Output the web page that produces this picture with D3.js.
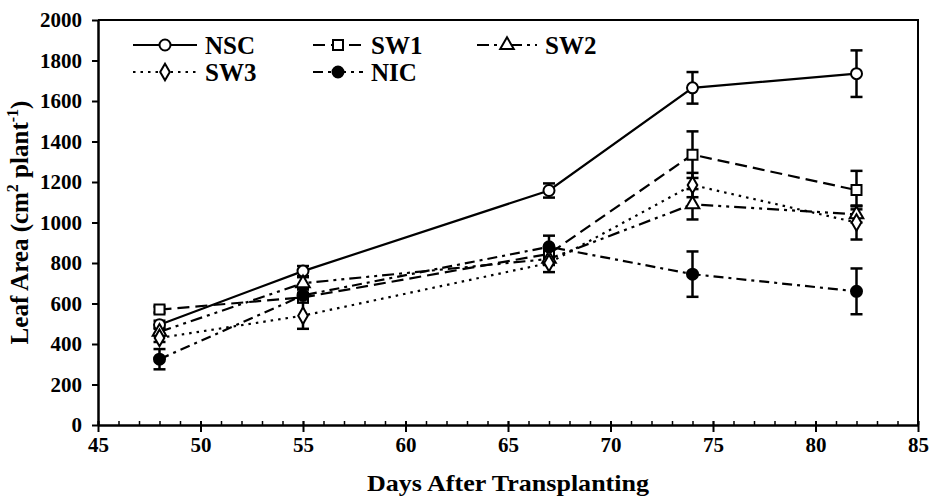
<!DOCTYPE html>
<html>
<head>
<meta charset="utf-8">
<script src="https://cdn.jsdelivr.net/npm/d3@7"></script>
<style>
  body { margin: 0; background: #fff; }
  svg { font-family: "Liberation Serif", "Times New Roman", serif; font-weight: bold; }
</style>
</head>
<body>
<svg id="svg" width="929" height="499"></svg>
<script>
const days = [48, 55, 67, 74, 82];
const nsc = [495, 760, 1158, 1665, 1735];
const nscErr = [20, 25, 35, 78, 115];
const sw1 = [570, 630, 845, 1335, 1160];
const sw1Err = [15, 20, 30, 115, 95];
const sw2 = [460, 700, 820, 1090, 1040];
const sw2Err = [20, 30, 30, 75, 40];
const sw3 = [430, 540, 800, 1185, 1000];
const sw3Err = [20, 65, 45, 60, 84];
const nic = [325, 640, 880, 745, 660];
const nicErr = [50, 30, 55, 112, 113];
const seriesNames = ['NSC', 'SW1', 'SW2', 'SW3', 'NIC'];
const xTicks = [45, 50, 55, 60, 65, 70, 75, 80, 85];
const yTicks = [0, 200, 400, 600, 800, 1000, 1200, 1400, 1600, 1800, 2000];

const series = [
  { name: 'NSC', vals: nsc, err: nscErr, dash: null, marker: 'circle', fill: '#fff' },
  { name: 'SW1', vals: sw1, err: sw1Err, dash: '12,6', marker: 'square', fill: '#fff' },
  { name: 'SW2', vals: sw2, err: sw2Err, dash: '12,5,3,5,3,5', marker: 'triangle', fill: '#fff' },
  { name: 'SW3', vals: sw3, err: sw3Err, dash: '2.5,5', marker: 'diamond', fill: '#fff' },
  { name: 'NIC', vals: nic, err: nicErr, dash: '10,5,3,5', marker: 'circle', fill: '#000' },
];

const svg = d3.select('#svg');
const mLeft = 98, mRight = 918, mTop = 20, mBottom = 425;

const x = d3.scaleLinear().domain([45, 85]).range([mLeft, mRight]);
const y = d3.scaleLinear().domain([0, 2000]).range([mBottom, mTop]);

// frame (top + right)
svg.append('path')
  .attr('d', `M${mLeft},${mTop}H${mRight}V${mBottom}`)
  .attr('fill', 'none').attr('stroke', '#000').attr('stroke-width', 2);

// x axis: minor ticks inside, major ticks crossing
const gx = svg.append('g').attr('transform', `translate(0,${mBottom})`);
gx.call(d3.axisBottom(x).tickValues(d3.range(45, 86, 1)).tickFormat('').tickSizeInner(-4).tickSizeOuter(0));
gx.selectAll('.tick line').attr('stroke-width', 1.5);
gx.select('.domain').attr('stroke-width', 2.5);
const gxMaj = svg.append('g').attr('transform', `translate(0,${mBottom})`);
gxMaj.call(d3.axisBottom(x).tickValues(xTicks).tickFormat(d3.format('d'))
  .tickSizeInner(7).tickSizeOuter(0).tickPadding(5));
gxMaj.select('.domain').remove();
gxMaj.selectAll('.tick line').attr('stroke-width', 2).attr('y1', -4);
gxMaj.selectAll('text').attr('font-size', 21).attr('fill', '#000').attr('font-weight', 'bold')
  .attr('font-family', '"Liberation Serif", serif');

// y axis
const gy = svg.append('g').attr('transform', `translate(${mLeft},0)`);
gy.call(d3.axisLeft(y).tickValues(yTicks).tickFormat(d3.format('d'))
  .tickSizeInner(6).tickSizeOuter(0).tickPadding(10));
gy.select('.domain').attr('stroke-width', 2.5);
gy.selectAll('.tick line').attr('stroke-width', 2);
gy.selectAll('text').attr('font-size', 21).attr('fill', '#000').attr('font-weight', 'bold')
  .attr('font-family', '"Liberation Serif", serif');

// axis titles
svg.append('text')
  .attr('x', (mLeft + mRight) / 2).attr('y', 491)
  .attr('text-anchor', 'middle').attr('font-size', 24)
  .attr('textLength', 282).attr('lengthAdjust', 'spacingAndGlyphs')
  .text('Days After Transplanting');

const yl = svg.append('text')
  .attr('transform', `translate(28,${(mTop + mBottom) / 2}) rotate(-90)`)
  .attr('text-anchor', 'middle').attr('font-size', 25);
yl.append('tspan').text('Leaf Area (cm');
yl.append('tspan').attr('dy', -10).attr('font-size', 16).text('2');
yl.append('tspan').attr('dy', 10).text(' plant');
yl.append('tspan').attr('dy', -10).attr('font-size', 16).text('-1');
yl.append('tspan').attr('dy', 10).text(')');

function drawMarker(g, type, cx, cy, fill) {
  if (type === 'circle') {
    g.append('circle').attr('cx', cx).attr('cy', cy).attr('r', 5.5)
      .attr('fill', fill).attr('stroke', '#000').attr('stroke-width', 2);
  } else {
    const sym = type === 'square' ? d3.symbolSquare : type === 'triangle' ? d3.symbolTriangle : d3.symbolDiamond;
    const size = type === 'square' ? 100 : 80;
    g.append('path').attr('d', d3.symbol(sym, size)())
      .attr('transform', `translate(${cx},${cy})`)
      .attr('fill', fill).attr('stroke', '#000').attr('stroke-width', 2);
  }
}

const line = d3.line().x((d) => x(d[0])).y((d) => y(d[1]));
const gData = svg.append('g');

// lines
series.forEach((s) => {
  gData.append('path')
    .datum(days.map((d, i) => [d, s.vals[i]]))
    .attr('d', line)
    .attr('fill', 'none').attr('stroke', '#000').attr('stroke-width', 2.2)
    .attr('stroke-dasharray', s.dash);
});

// error bars
series.forEach((s) => {
  days.forEach((d, i) => {
    const cx = x(d);
    const y1 = y(s.vals[i] + s.err[i]);
    const y2 = y(s.vals[i] - s.err[i]);
    gData.append('line').attr('x1', cx).attr('x2', cx).attr('y1', y1).attr('y2', y2)
      .attr('stroke', '#000').attr('stroke-width', 2.5);
    [y1, y2].forEach((yy) => {
      gData.append('line').attr('x1', cx - 6).attr('x2', cx + 6).attr('y1', yy).attr('y2', yy)
        .attr('stroke', '#000').attr('stroke-width', 2.5);
    });
  });
});

// markers
series.forEach((s) => {
  days.forEach((d, i) => drawMarker(gData, s.marker, x(d), y(s.vals[i]), s.fill));
});

// legend
const legendPos = [[133, 45], [313, 45], [477, 45], [133, 72], [313, 72]];
const legendW = [64, 50, 60, 64, 50];
const lg = svg.append('g');
series.forEach((s, i) => {
  const [lx, ly] = legendPos[i];
  const w = legendW[i];
  lg.append('line').attr('x1', lx).attr('x2', lx + w).attr('y1', ly).attr('y2', ly)
    .attr('stroke', '#000').attr('stroke-width', 2).attr('stroke-dasharray', s.dash);
  drawMarker(lg, s.marker, lx + w / 2, ly, s.fill);
  lg.append('text').attr('x', lx + w + 8).attr('y', ly + 9)
    .attr('font-size', 25).text(seriesNames[i]);
});
</script>
</body>
</html>
